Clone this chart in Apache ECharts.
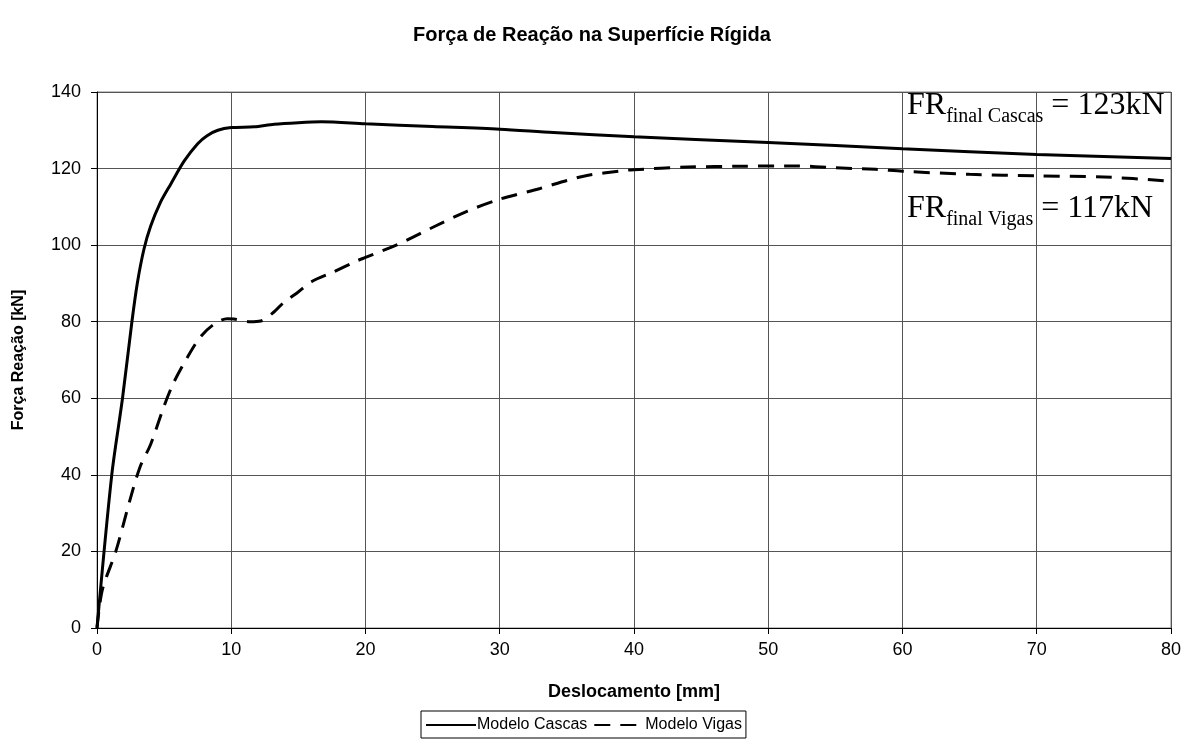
<!DOCTYPE html>
<html>
<head>
<meta charset="utf-8">
<script src="https://cdn.jsdelivr.net/npm/echarts@6/dist/echarts.min.js"></script>
<style>
html,body{margin:0;padding:0;background:#fff;}
#chart{width:1184px;height:749px;}
</style>
</head>
<body>
<div id="chart"></div>
<script>
const titleText = 'Força de Reação na Superfície Rígida';
const xAxisName = 'Deslocamento [mm]';
const yAxisName = 'Força Reação [kN]';
const seriesNames = ['Modelo Cascas', 'Modelo Vigas'];

const cascasData = [
  [0,0],[1.1,40],[1.9,60],[2.6,80],[3.0,90],[3.5,99],[4.0,105],[4.7,111],
  [5.5,116],[6.5,122],[7.5,126.5],[8.2,128.6],[9.0,130],[10,130.7],[11.7,130.9],
  [13.2,131.6],[15,132],[16.7,132.2],[20,131.7],[25,131],[30,130.3],[34,129.4],
  [40,128.3],[50,126.8],[60,125.2],[70,123.7],[80,122.6]
];
const vigasData = [
  [0,0],[0.4,10],[1.4,20],[2.5,34],[3.2,42],[4,48],[5,58],[5.7,64],[6.7,70.5],
  [7.7,76],[8.7,79.3],[9.7,80.8],[10.2,80.7],[11.4,80],[12.2,80.2],[13.2,82.6],
  [13.9,85],[14.9,87.5],[16,90.5],[17.6,93],[19.3,95.8],[20,96.8],[22.4,100.2],
  [25.1,104.8],[27.6,108.9],[30,112],[33,114.8],[35,116.9],[36.5,118.2],[39,119.4],
  [40,119.7],[44,120.4],[48,120.6],[52,120.7],[55,120.2],[58,119.8],[60,119.3],
  [65,118.5],[70,118.1],[75,117.8],[80,116.7]
];
const annCascas = ['FR', 'final Cascas', ' = 123kN'];
const annVigas = ['FR', 'final Vigas', ' = 117kN'];

const chart = echarts.init(document.getElementById('chart'));
const sans = 'Liberation Sans, Arial, sans-serif';
const serif = 'Liberation Serif, Times New Roman, serif';
const rich = {
  a: {fontFamily: serif, fontSize: 32, color: '#000', lineHeight: 32, verticalAlign: 'bottom'},
  b: {fontFamily: serif, fontSize: 20, color: '#000', lineHeight: 32, verticalAlign: 'bottom', padding: [0,0,-5,0]}
};
function annText(a){ return '{a|' + a[0] + '}{b|' + a[1] + '}{a|' + a[2] + '}'; }

chart.setOption({
  backgroundColor: '#fff',
  animation: false,
  title: {
    text: titleText, left: 'center', top: 20,
    textStyle: {fontFamily: sans, fontSize: 20, fontWeight: 'bold', color: '#000'}
  },
  grid: {left: 97, right: 10, top: 92, bottom: 121, show: true, borderColor: '#808080', borderWidth: 1},
  legend: {
    left: 421, top: 711, orient: 'horizontal',
    borderColor: '#000', borderWidth: 1, padding: [6, 4, 5, 4],
    itemWidth: 50, itemHeight: 10, itemGap: 6,
    data: seriesNames,
    itemStyle: {color: 'rgba(0,0,0,0)', borderWidth: 0, opacity: 0},
    textStyle: {fontFamily: sans, fontSize: 16, color: '#000', padding: [0,0,0,-4]}
  },
  xAxis: {
    type: 'value', min: 0, max: 80, interval: 10,
    name: xAxisName, nameLocation: 'middle', nameGap: 55,
    nameTextStyle: {fontFamily: sans, fontSize: 18, fontWeight: 'bold', color: '#000'},
    axisLine: {lineStyle: {color: '#000', width: 1}},
    axisTick: {show: true, length: 6, lineStyle: {color: '#000'}},
    axisLabel: {fontFamily: sans, fontSize: 18, color: '#000', margin: 13},
    splitLine: {show: true, lineStyle: {color: '#555', width: 1}}
  },
  yAxis: {
    type: 'value', min: 0, max: 140, interval: 20,
    name: yAxisName, nameLocation: 'middle', nameGap: 70,
    nameTextStyle: {fontFamily: sans, fontSize: 16, fontWeight: 'bold', color: '#000'},
    axisLine: {show: true, lineStyle: {color: '#000', width: 1}},
    axisTick: {show: true, length: 6, lineStyle: {color: '#000'}},
    axisLabel: {fontFamily: sans, fontSize: 18, color: '#000', margin: 16},
    splitLine: {show: true, lineStyle: {color: '#555', width: 1}}
  },
  series: [
    {
      name: seriesNames[0], type: 'line', data: cascasData, symbol: 'none', smooth: 0.3,
      lineStyle: {color: '#000', width: 3, type: 'solid'}, itemStyle: {color: '#000'}, z: 3
    },
    {
      name: seriesNames[1], type: 'line', data: vigasData, symbol: 'none', smooth: 0.3,
      lineStyle: {color: '#000', width: 3, type: [16, 10]}, itemStyle: {color: '#000'}, z: 3
    }
  ],
  graphic: [
    {type: 'text', left: 907, top: 90, z: 10, style: {text: annText(annCascas), rich: rich}},
    {type: 'text', left: 907, top: 193, z: 10, style: {text: annText(annVigas), rich: rich}}
  ]
});
</script>
</body>
</html>
